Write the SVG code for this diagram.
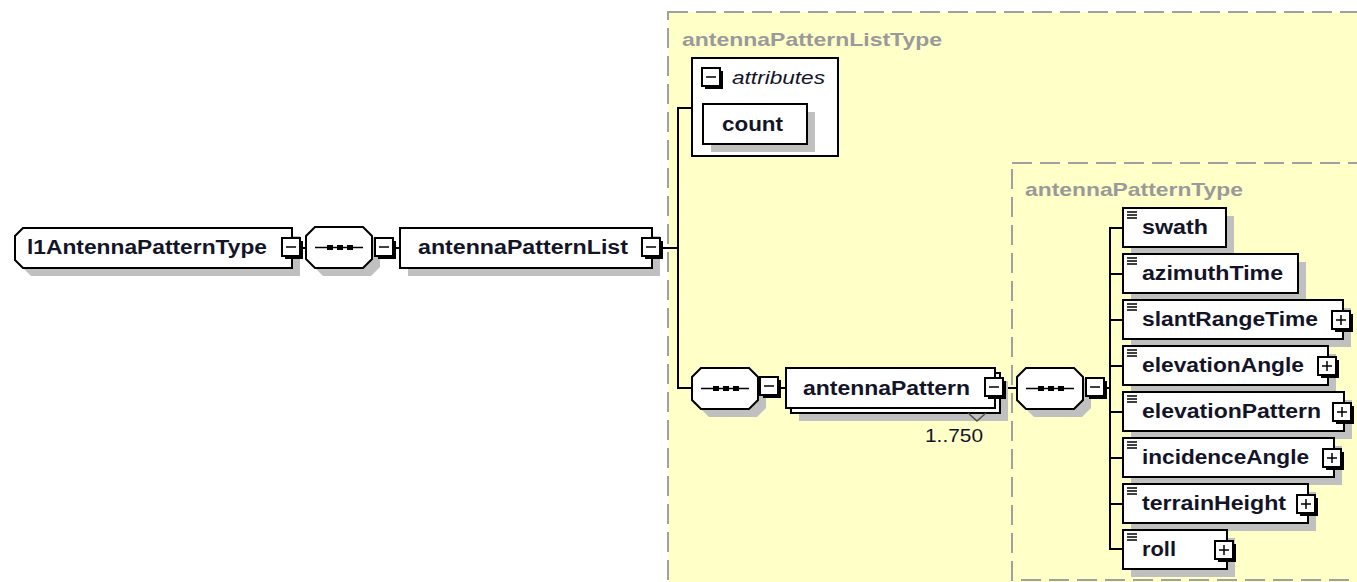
<svg xmlns="http://www.w3.org/2000/svg" width="1357" height="582" viewBox="0 0 1357 582">
<style>
.bg{fill:#ffffff}
.area{fill:#ffffc8;stroke:#a0a0a0;stroke-width:2;stroke-dasharray:20 8}
.shadow{fill:#c0c0c0}
.box{fill:#ffffff;stroke:#000000;stroke-width:2}
.btnsh{fill:#000000}
.conn{fill:none;stroke:#000000;stroke-width:2}
.lbl{font-family:"Liberation Sans",Arial,sans-serif;font-weight:bold;font-size:20px;fill:#141428}
.title{font-family:"Liberation Sans",Arial,sans-serif;font-weight:bold;font-size:19px;fill:#9a9a9a}
.attr{font-family:"Liberation Sans",Arial,sans-serif;font-style:italic;font-size:19px;fill:#141428}
.occ{font-family:"Liberation Sans",Arial,sans-serif;font-size:18px;fill:#141428}
.dot{fill:#000000}
.icon{stroke:#000000;stroke-width:1.5}
</style>
<defs>
<g id="minus">
<rect x="3" y="3" width="18" height="18" class="btnsh"/>
<rect x="0" y="0" width="18" height="18" class="box" stroke-width="1.5"/>
<line x1="4" y1="9" x2="14" y2="9" stroke="#000" stroke-width="1.5"/>
</g>
<g id="plus">
<rect x="3" y="3" width="18" height="18" class="btnsh"/>
<rect x="0" y="0" width="18" height="18" class="box" stroke-width="1.5"/>
<line x1="4" y1="9" x2="14" y2="9" stroke="#000" stroke-width="1.5"/>
<line x1="9" y1="4" x2="9" y2="14" stroke="#000" stroke-width="1.5"/>
</g>
<g id="seq">
<polygon points="9,0 57,0 66,9 66,32 57,41 9,41 0,32 0,9" class="shadow" transform="translate(8,8)"/>
<polygon points="9,0 57,0 66,9 66,32 57,41 9,41 0,32 0,9" class="box" stroke-width="1.5"/>
<line x1="9" y1="20.5" x2="57" y2="20.5" stroke="#000" stroke-width="1.5"/>
<rect x="21" y="18" width="6" height="5" class="dot"/>
<rect x="31" y="18" width="6" height="5" class="dot"/>
<rect x="41" y="18" width="6" height="5" class="dot"/>
</g>
<g id="doc">
<line x1="4" y1="4" x2="14" y2="4" class="icon"/>
<line x1="4" y1="7" x2="14" y2="7" class="icon"/>
<line x1="4" y1="10" x2="14" y2="10" class="icon"/>
</g>
</defs>
<rect x="0" y="0" width="1357" height="582" class="bg"/>

<g id="area-antennaPatternListType">
<rect x="668" y="12" width="720" height="600" class="area"/>
<text x="682" y="46" class="title" textLength="260" lengthAdjust="spacingAndGlyphs">antennaPatternListType</text>
</g>
<g id="area-antennaPatternType">
<rect x="1012" y="163" width="380" height="417" class="area"/>
<text x="1025" y="196" class="title" textLength="218" lengthAdjust="spacingAndGlyphs">antennaPatternType</text>
</g>

<g id="connectors">
<line x1="300" y1="248" x2="306" y2="248" class="conn"/>
<line x1="372" y1="248" x2="376" y2="248" class="conn"/>
<line x1="393" y1="248" x2="400" y2="248" class="conn"/>
<line x1="660" y1="248" x2="678" y2="248" class="conn"/>
<polyline points="692,108 678,108 678,388 692,388" class="conn"/>
<line x1="780" y1="388" x2="786" y2="388" class="conn"/>
<line x1="1003" y1="388" x2="1017" y2="388" class="conn"/>
<line x1="1104" y1="388" x2="1110" y2="388" class="conn"/>
<line x1="1110" y1="227" x2="1110" y2="550" class="conn"/>
<line x1="1110" y1="228" x2="1123" y2="228" class="conn"/>
<line x1="1110" y1="274" x2="1123" y2="274" class="conn"/>
<line x1="1110" y1="320" x2="1123" y2="320" class="conn"/>
<line x1="1110" y1="366" x2="1123" y2="366" class="conn"/>
<line x1="1110" y1="412" x2="1123" y2="412" class="conn"/>
<line x1="1110" y1="458" x2="1123" y2="458" class="conn"/>
<line x1="1110" y1="504" x2="1123" y2="504" class="conn"/>
<line x1="1110" y1="549" x2="1123" y2="549" class="conn"/>
</g>

<g id="node-l1AntennaPatternType">
<polygon points="31,236 300,236 300,276 31,276 23,268 23,244" class="shadow"/>
<polygon points="23,228 292,228 292,268 23,268 15,260 15,236" class="box"/>
<text x="27" y="254" class="lbl" textLength="240" lengthAdjust="spacingAndGlyphs">l1AntennaPatternType</text>
<use href="#minus" x="282" y="238"/>
</g>

<g id="node-sequence1">
<use href="#seq" x="306" y="227"/>
<use href="#minus" x="375" y="238"/>
</g>

<g id="node-antennaPatternList">
<rect x="408" y="236" width="252" height="40" class="shadow"/>
<rect x="400" y="228" width="252" height="40" class="box"/>
<text x="418" y="254" class="lbl" textLength="210" lengthAdjust="spacingAndGlyphs">antennaPatternList</text>
<use href="#minus" x="642" y="238"/>
</g>

<g id="node-attributes">
<rect x="692" y="58" width="146" height="98" class="box" stroke-width="1.5"/>
<use href="#minus" x="702" y="68"/>
<text x="732" y="84" class="attr" textLength="93" lengthAdjust="spacingAndGlyphs">attributes</text>
</g>

<g id="node-count">
<rect x="711" y="112" width="104" height="40" class="shadow"/>
<rect x="703" y="104" width="104" height="40" class="box"/>
<text x="722" y="131" class="lbl" textLength="61" lengthAdjust="spacingAndGlyphs">count</text>
</g>

<g id="node-sequence2">
<use href="#seq" x="692" y="368"/>
<use href="#minus" x="760" y="377"/>
</g>

<g id="node-antennaPattern">
<rect x="799" y="381" width="209" height="40" class="shadow"/>
<rect x="791" y="373" width="209" height="40" class="box" stroke-width="1.5"/>
<rect x="786" y="368" width="209" height="40" class="box"/>
<polyline points="968,413 977,421 986,413" fill="none" stroke="#505050" stroke-width="1.5"/>
<text x="803" y="395" class="lbl" textLength="167" lengthAdjust="spacingAndGlyphs">antennaPattern</text>
<use href="#minus" x="985" y="378"/>
<text x="925" y="442" class="occ" textLength="58" lengthAdjust="spacingAndGlyphs">1..750</text>
</g>

<g id="node-sequence3">
<use href="#seq" x="1017" y="368"/>
<use href="#minus" x="1086" y="378"/>
</g>

<g id="node-swath">
<rect x="1131" y="216" width="103" height="39" class="shadow"/>
<rect x="1123" y="208" width="103" height="39" class="box"/>
<use href="#doc" x="1123" y="208"/>
<text x="1142" y="234" class="lbl" textLength="66" lengthAdjust="spacingAndGlyphs">swath</text>
</g>

<g id="node-azimuthTime">
<rect x="1131" y="262" width="175" height="39" class="shadow"/>
<rect x="1123" y="254" width="175" height="39" class="box"/>
<use href="#doc" x="1123" y="254"/>
<text x="1142" y="280" class="lbl" textLength="141" lengthAdjust="spacingAndGlyphs">azimuthTime</text>
</g>

<g id="node-slantRangeTime">
<rect x="1131" y="308" width="220" height="39" class="shadow"/>
<rect x="1123" y="300" width="220" height="39" class="box"/>
<use href="#doc" x="1123" y="300"/>
<text x="1142" y="326" class="lbl" textLength="176" lengthAdjust="spacingAndGlyphs">slantRangeTime</text>
<use href="#plus" x="1332" y="311"/>
</g>

<g id="node-elevationAngle">
<rect x="1131" y="354" width="205" height="39" class="shadow"/>
<rect x="1123" y="346" width="205" height="39" class="box"/>
<use href="#doc" x="1123" y="346"/>
<text x="1142" y="372" class="lbl" textLength="162" lengthAdjust="spacingAndGlyphs">elevationAngle</text>
<use href="#plus" x="1318" y="357"/>
</g>

<g id="node-elevationPattern">
<rect x="1131" y="400" width="221" height="39" class="shadow"/>
<rect x="1123" y="392" width="221" height="39" class="box"/>
<use href="#doc" x="1123" y="392"/>
<text x="1142" y="418" class="lbl" textLength="179" lengthAdjust="spacingAndGlyphs">elevationPattern</text>
<use href="#plus" x="1333" y="403"/>
</g>

<g id="node-incidenceAngle">
<rect x="1131" y="446" width="211" height="39" class="shadow"/>
<rect x="1123" y="438" width="211" height="39" class="box"/>
<use href="#doc" x="1123" y="438"/>
<text x="1142" y="464" class="lbl" textLength="167" lengthAdjust="spacingAndGlyphs">incidenceAngle</text>
<use href="#plus" x="1323" y="449"/>
</g>

<g id="node-terrainHeight">
<rect x="1131" y="492" width="185" height="39" class="shadow"/>
<rect x="1123" y="484" width="185" height="39" class="box"/>
<use href="#doc" x="1123" y="484"/>
<text x="1142" y="510" class="lbl" textLength="144" lengthAdjust="spacingAndGlyphs">terrainHeight</text>
<use href="#plus" x="1297" y="495"/>
</g>

<g id="node-roll">
<rect x="1131" y="538" width="104" height="39" class="shadow"/>
<rect x="1123" y="530" width="104" height="39" class="box"/>
<use href="#doc" x="1123" y="530"/>
<text x="1142" y="556" class="lbl" textLength="34" lengthAdjust="spacingAndGlyphs">roll</text>
<use href="#plus" x="1215" y="541"/>
</g>
</svg>
